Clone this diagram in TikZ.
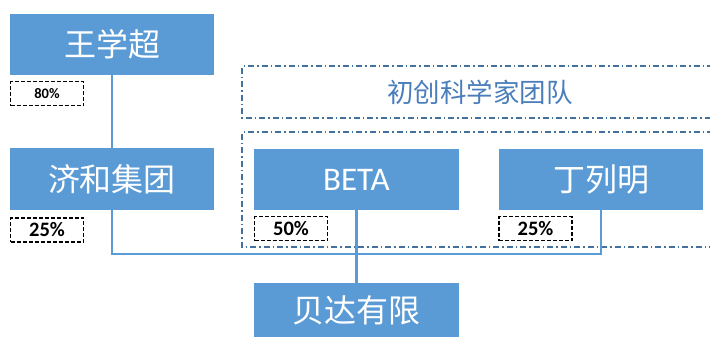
\documentclass[tikz,border=0pt]{standalone}
\usepackage{fontspec}
\setmainfont{Carlito}
\newfontfamily\cjk{Noto Sans CJK SC}
\definecolor{boxblue}{HTML}{5B9BD5}
\definecolor{grpblue}{HTML}{41719C}
\definecolor{txtblue}{HTML}{4A7EBB}
\tikzset{
  ent/.style={fill=boxblue, text=white, inner sep=0pt, minimum width=204pt, minimum height=61pt},
  cjkbig/.style={font=\cjk\fontsize{32}{36}\selectfont},
  pct/.style={draw=black, dashed, dash pattern=on 4pt off 2pt, line width=1.4pt, inner sep=0pt, minimum width=73pt, minimum height=24pt, font=\bfseries\fontsize{20.5}{22}\selectfont},
  grp/.style={draw=grpblue, line width=1.4pt, dash pattern=on 6pt off 3pt on 1.5pt off 3pt},
  link/.style={draw=boxblue, line width=2.2pt}
}
\begin{document}
\begin{tikzpicture}[x=1pt,y=-1pt]
\useasboundingbox (0,0) rectangle (710,338);
\clip (0,0) rectangle (710,338);
% group frames
\draw[grp] (713,66) -- (242,66) -- (242,118) -- (713,118);
\draw[grp] (713,132) -- (242,132) -- (242,247) -- (713,247);
\node[text=txtblue, font=\cjk\fontsize{26.5}{30}\selectfont] (team) at (480,92) {初创科学家团队};
% entities
\node[ent, cjkbig] (wxc) at (112,44.5) {王学超};
\node[ent, cjkbig, minimum height=62pt] (jh) at (112,179) {济和集团};
\node[ent, font=\fontsize{33}{38}\selectfont, minimum width=205pt] (beta) at (356.5,179.5) {BETA};
\node[ent, cjkbig] (dlm) at (601,179.5) {丁列明};
\node[ent, cjkbig, minimum width=205pt, minimum height=54pt] (bd) at (356.5,310) {贝达有限};
% percentages
\node[pct, font=\bfseries\fontsize{14.5}{16}\selectfont] (p80) at (47,93.5) {80\%};
\node[pct] (p25a) at (47,230) {25\%};
\node[pct] (p50) at (291,228.5) {50\%};
\node[pct] (p25b) at (535.5,228.5) {25\%};
% connectors
\draw[link] (wxc.south) -- (jh.north);
\draw[link] (jh.south) -- ++(0,44) -| (dlm.south);
\draw[link] (beta.south) -- (bd.north);
\end{tikzpicture}
\end{document}
